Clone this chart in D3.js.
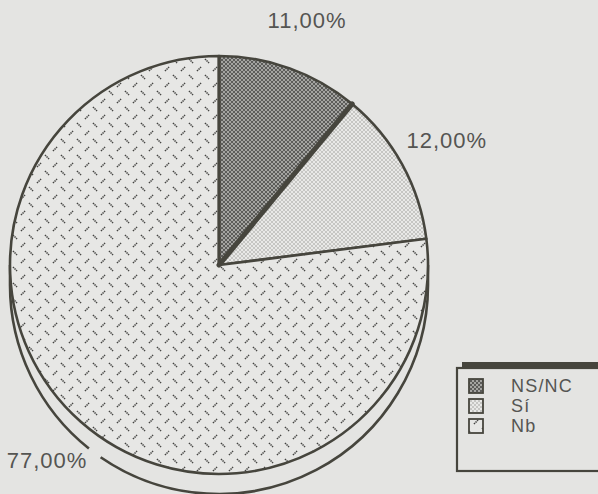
<!DOCTYPE html>
<html>
<head>
<meta charset="utf-8">
<script src="https://cdn.jsdelivr.net/npm/d3@7"></script>
<style>
  html, body { margin: 0; padding: 0; background: #e4e4e2; }
  svg { display: block; }
</style>
</head>
<body>
<svg id="pie-svg" width="598" height="494"></svg>
<script>
// data
const categories = ["NS/NC", "Sí", "Nb"];
const values = [11, 12, 77];
const valueLabels = ["11,00%", "12,00%", "77,00%"];
const patternIds = ["pat-nsnc", "pat-si", "pat-nb"];

const data = categories.map((c, i) => ({ name: c, value: values[i], label: valueLabels[i], pat: patternIds[i] }));

const svg = d3.select("#pie-svg"),
    width = +svg.attr("width"),
    height = +svg.attr("height");

const cx = 219, cy = 265, radius = 209, depth = 20;
const ink = "#46453d", textColor = "#555552", bg = "#e4e4e2";

svg.append("rect").attr("width", width).attr("height", height).attr("fill", bg);

// fill patterns
const defs = svg.append("defs");
function checker(id, a, b, size) {
    const p = defs.append("pattern").attr("id", id)
        .attr("patternUnits", "userSpaceOnUse")
        .attr("width", size * 2).attr("height", size * 2);
    p.append("rect").attr("width", size * 2).attr("height", size * 2).attr("fill", a);
    p.append("rect").attr("width", size).attr("height", size).attr("fill", b);
    p.append("rect").attr("x", size).attr("y", size).attr("width", size).attr("height", size).attr("fill", b);
}
checker("pat-nsnc", "#a4a4a1", "#5c5c5a", 2);
checker("pat-si", "#e9e9e7", "#c6c6c3", 2);

const nb = defs.append("pattern").attr("id", "pat-nb")
    .attr("patternUnits", "userSpaceOnUse")
    .attr("width", 16).attr("height", 16);
nb.append("rect").attr("width", 16).attr("height", 16).attr("fill", "#e7e7e5");
[[2, 2, 6, 6], [10, 14, 14, 10]].forEach(s => {
    nb.append("line")
        .attr("x1", s[0]).attr("y1", s[1]).attr("x2", s[2]).attr("y2", s[3])
        .attr("stroke", "#444442").attr("stroke-width", 1.6)
        .attr("stroke-dasharray", "1.4,0.8");
});

const pie = d3.pie().sort(null).value(d => d.value);
const arcs = pie(data);

// 3D rim under the lower half of the pie
const rimGap = [214.5 * Math.PI / 180, 218.5 * Math.PI / 180];
const rim = svg.append("g").attr("transform", "translate(" + cx + "," + (cy + depth) + ")");
function rimPath(a0, a1) {
    const p = d3.path();
    const s = d3.pointRadial(a0, radius);
    p.moveTo(s[0], s[1]);
    p.arc(0, 0, radius, a0 - Math.PI / 2, a1 - Math.PI / 2);
    return p.toString();
}
[[Math.PI / 2, rimGap[0]], [rimGap[1], 3 * Math.PI / 2]].forEach(r => {
    rim.append("path").attr("d", rimPath(r[0], r[1]))
        .attr("fill", "none").attr("stroke", ink).attr("stroke-width", 2.6);
});
[-radius, radius].forEach(x => {
    rim.append("line").attr("x1", x).attr("x2", x).attr("y1", -depth).attr("y2", 0)
        .attr("stroke", ink).attr("stroke-width", 2.6);
});

// pie
const g = svg.append("g").attr("transform", "translate(" + cx + "," + cy + ")");
const path = d3.arc().innerRadius(0).outerRadius(radius);

g.selectAll("path.slice")
    .data(arcs)
    .enter()
    .append("path")
    .attr("class", "slice")
    .attr("d", path)
    .attr("fill", d => "url(#" + d.data.pat + ")")
    .attr("stroke", ink)
    .attr("stroke-width", 2.6)
    .attr("stroke-linejoin", "round");

// heavy divider between first two slices
const edge = d3.pointRadial(arcs[0].endAngle, radius);
g.append("line").attr("x1", 0).attr("y1", 0).attr("x2", edge[0]).attr("y2", edge[1])
    .attr("stroke", ink).attr("stroke-width", 5).attr("stroke-linecap", "round");
const start = d3.pointRadial(arcs[0].startAngle, radius);
g.append("line").attr("x1", 0).attr("y1", 0).attr("x2", start[0]).attr("y2", start[1])
    .attr("stroke", ink).attr("stroke-width", 3);

// percentage labels
const label = d3.arc().innerRadius(260).outerRadius(260);
g.selectAll("text.pct")
    .data(arcs)
    .enter()
    .append("text")
    .attr("class", "pct")
    .attr("transform", d => "translate(" + label.centroid(d) + ")")
    .attr("text-anchor", "middle")
    .attr("dy", "0.36em")
    .style("font-family", "'Liberation Sans', Arial, sans-serif")
    .style("font-size", "22px")
    .style("letter-spacing", "1px")
    .attr("fill", textColor)
    .text(d => d.data.label);

// legend
const lx = 457, ly = 368, lw = 200, lh = 103;
svg.append("rect").attr("x", lx + 5).attr("y", ly - 6).attr("width", lw).attr("height", lh)
    .attr("fill", ink);
svg.append("rect").attr("x", lx).attr("y", ly).attr("width", lw).attr("height", lh)
    .attr("fill", bg).attr("stroke", ink).attr("stroke-width", 2.2);

const legendY = d3.scalePoint().domain(categories).range([386, 426]);
const item = svg.selectAll("g.legend")
    .data(data)
    .enter()
    .append("g")
    .attr("class", "legend")
    .attr("transform", d => "translate(0," + legendY(d.name) + ")");
item.append("rect")
    .attr("x", 469).attr("y", -7).attr("width", 14).attr("height", 14)
    .attr("fill", d => "url(#" + d.pat + ")")
    .attr("stroke", ink).attr("stroke-width", 1.8);
item.append("text")
    .attr("x", 511).attr("dy", "0.36em")
    .style("font-family", "'Liberation Sans', Arial, sans-serif")
    .style("font-size", "18px")
    .style("letter-spacing", "1.2px")
    .attr("fill", textColor)
    .text(d => d.name);
</script>
</body>
</html>
